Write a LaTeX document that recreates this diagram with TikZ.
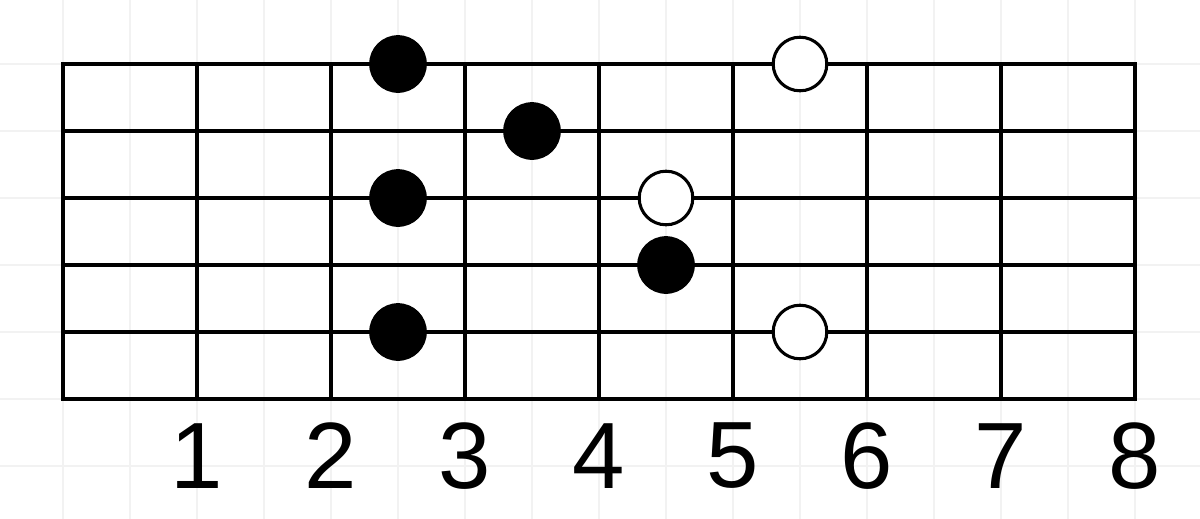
\documentclass[tikz,border=0pt]{standalone}
\usepackage{fontspec}
\setmainfont{Liberation Sans}
\begin{document}
\begin{tikzpicture}[
  faint/.style={draw=black!5, line width=0.5pt},
  fretline/.style={draw=black, line width=1.8pt},
  fulldot/.style={circle, fill=black, draw=black, line width=0.6pt, minimum size=0.84cm, inner sep=0pt},
  opendot/.style={circle, fill=white, draw=black, line width=1.3pt, minimum size=0.80cm, inner sep=0pt},
  fretnum/.style={font=\fontsize{40}{40}\selectfont, inner sep=0pt}
]
\useasboundingbox (-0.9403,0.9552) rectangle (16.9701,-6.7910);
\fill[white] (-0.9403,0.9552) rectangle (16.9701,-6.7910);
% faint background grid
\foreach \x in {0,...,16} \draw[faint] (\x,0.9552) -- (\x,-6.7910);
\foreach \y in {0,...,6} \draw[faint] (-0.9403,-\y) -- (16.9701,-\y);
% strings
\foreach \y in {0,...,5} \draw[fretline, line cap=rect] (0,-\y) -- (16,-\y);
% frets
\foreach \x in {0,2,...,16} \draw[fretline, line cap=rect] (\x,0) -- (\x,-5);
% fret numbers
\foreach \n in {1,...,8} \node[fretnum] (n\n) at (2*\n,-5.85) {\n};
% dots
\node[fulldot] (d1) at (5,0) {};
\node[fulldot] (d2) at (7,-1) {};
\node[fulldot] (d3) at (5,-2) {};
\node[fulldot] (d4) at (9,-3) {};
\node[fulldot] (d5) at (5,-4) {};
\node[opendot] (o1) at (11,0) {};
\node[opendot] (o2) at (9,-2) {};
\node[opendot] (o3) at (11,-4) {};
\end{tikzpicture}
\end{document}
